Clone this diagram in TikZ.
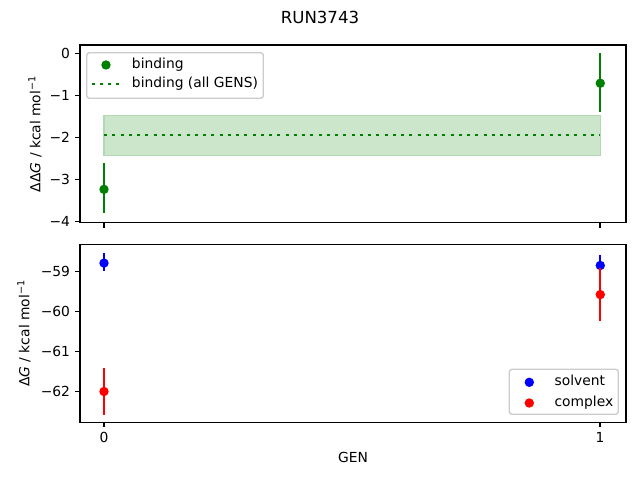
\documentclass[tikz,border=0pt]{standalone}
\usepackage{fontspec}
\setmainfont{DejaVu Sans}

\definecolor{mplgreen}{HTML}{008000}
\definecolor{mplblue}{HTML}{0000FF}
\definecolor{mplred}{HTML}{FF0000}
\definecolor{bandfill}{HTML}{CCE6CC}
\definecolor{bandedge}{HTML}{B3D9B3}
\definecolor{legendedge}{HTML}{CCCCCC}

\tikzset{
  axisframe/.style={line width=0.8pt, black},
  tickmark/.style={line width=0.8pt, black},
  ticklabel/.style={font=\fontsize{10}{12}\selectfont, inner sep=0pt, text height=7.3pt, text depth=0pt},
  legendtext/.style={font=\fontsize{10}{12}\selectfont, inner sep=0pt, anchor=west, text height=7.5pt, text depth=2.3pt},
  axislabel/.style={font=\fontsize{10}{12}\selectfont, inner sep=0pt},
  legendbox/.style={draw=legendedge, fill=white, line width=1pt, rounded corners=2pt},
  errbar/.style={line width=1.5pt},
  allgens/.style={mplgreen, line width=1.5pt, dash pattern=on 2.25pt off 3.71pt}
}

\begin{document}
\begin{tikzpicture}[x=0.01in, y=-0.01in]
\useasboundingbox[fill=white] (0,0) rectangle (640,480);

% title
\node[font=\fontsize{12}{14}\selectfont] (title) at (320,17) {RUN3743};

% top panel: data
\begin{scope}[shift={(104,53.3)}, x=4.96in, y=0.421in]
  \fill[bandfill] (0,-1.47) rectangle (1,-2.43);
  \draw[bandedge, line width=1pt] (0,-1.47) rectangle (1,-2.43);
  \draw[allgens] (0,-1.94) -- (1,-1.94);
  \draw[errbar, mplgreen] (0,-2.61) -- (0,-3.80);
  \fill[mplgreen] (0,-3.23) circle (3.4pt);
  \draw[errbar, mplgreen] (1,0.00) -- (1,-1.40);
  \fill[mplgreen] (1,-0.71) circle (3.4pt);
\end{scope}

% bottom panel: data
\begin{scope}[shift={(104,-2080.6)}, x=4.96in, y=0.3987in]
  \draw[errbar, mplblue] (0,-58.51) -- (0,-58.94);
  \fill[mplblue] (0,-58.75) circle (3.4pt);
  \draw[errbar, mplblue] (1,-58.56) -- (1,-59.06);
  \fill[mplblue] (1,-58.81) circle (3.4pt);
  \draw[errbar, mplred] (0,-61.39) -- (0,-62.55);
  \fill[mplred] (0,-61.97) circle (3.4pt);
  \draw[errbar, mplred] (1,-58.87) -- (1,-60.21);
  \fill[mplred] (1,-59.54) circle (3.4pt);
\end{scope}

% frames
\draw[axisframe] (80,45) rectangle (626,222.7);
\draw[axisframe] (80,244.3) rectangle (626,422.3);

% ticks
\foreach \px in {104,600} {
  \draw[tickmark] (\px,222.7) -- (\px,227.6);
  \draw[tickmark] (\px,422.3) -- (\px,427.2);
}
\foreach \py/\lab [count=\i] in {53.3/0, 95.4/−1, 137.5/−2, 179.6/−3, 221.7/−4} {
  \draw[tickmark] (80,\py) -- (75.1,\py);
  \node[ticklabel, anchor=east] (ytop\i) at (70.3,\py) {\lab};
}
\foreach \py/\lab [count=\i] in {271.7/−59, 311.6/−60, 351.4/−61, 391.3/−62} {
  \draw[tickmark] (80,\py) -- (75.1,\py);
  \node[ticklabel, anchor=east] (ybot\i) at (70.3,\py) {\lab};
}
\node[ticklabel, anchor=north] (xzero) at (104,432.2) {0};
\node[ticklabel, anchor=north] (xone) at (600,432.2) {1};

% axis labels
\node[axislabel, rotate=90] (ddglabel) at (35,133.9) {ΔΔ\textit{G} / kcal mol\textsuperscript{−1}};
\node[axislabel, rotate=90] (dglabel) at (24,333.3) {Δ\textit{G} / kcal mol\textsuperscript{−1}};
\node[axislabel] (genlabel) at (353,457) {GEN};

% legend top
\draw[legendbox] (86.7,52.7) rectangle (263.3,98.3);
\fill[mplgreen] (106,65) circle (3.4pt);
\node[legendtext] (bindtext) at (131.7,65) {binding};
\draw[allgens] (91.7,84) -- (119.3,84);
\node[legendtext] (alltext) at (131.7,84) {binding (all GENS)};

% legend bottom
\draw[legendbox] (509.3,369.3) rectangle (618.3,414.3);
\fill[mplblue] (529.3,382.3) circle (3.4pt);
\node[legendtext] (solvtext) at (554.3,382.3) {solvent};
\fill[mplred] (529.3,403) circle (3.4pt);
\node[legendtext] (cplxtext) at (554.3,403) {complex};

\end{tikzpicture}
\end{document}
